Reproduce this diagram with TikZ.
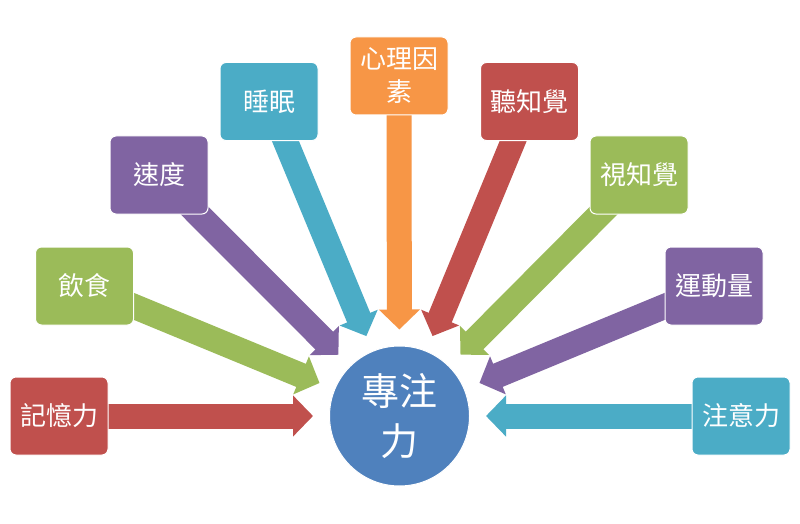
\documentclass[tikz,border=0pt]{standalone}
\usepackage{fontspec}
\newfontfamily\cjk{Noto Sans CJK TC}
\usetikzlibrary{arrows.meta,backgrounds}
\definecolor{cred}{HTML}{C0504D}
\definecolor{cgreen}{HTML}{9BBB59}
\definecolor{cpurple}{HTML}{8064A2}
\definecolor{caqua}{HTML}{4BACC6}
\definecolor{corange}{HTML}{F79646}
\definecolor{cblue}{HTML}{4F81BD}
\tikzset{
  box/.style={rounded corners=6pt, draw=white, line width=1pt, minimum width=98pt, minimum height=78pt,
    inner sep=0pt, align=center, text=white, font=\cjk\fontsize{26}{33}\selectfont},
  hub/.style={circle, draw=white, line width=1pt, fill=cblue, minimum size=140pt, inner sep=0pt,
    align=center, text=white, font=\cjk\fontsize{38}{50}\selectfont},
  blockarrow/.style={line width=25pt, line cap=butt, shorten >=16pt,
    -{Triangle[length=20pt,width=40pt]}}
}
\begin{document}
\begin{tikzpicture}[x=1pt,y=-1pt]
\useasboundingbox (0,0) rectangle (800,524);
\node[hub] (focus) at (399.5,416) {專注\\力};
\node[box, fill=cred]    (mem)   at (59,416)    {記憶力};
\node[box, fill=cgreen]  (diet)  at (84.5,286)  {飲食};
\node[box, fill=cpurple] (speed) at (159,175)   {速度};
\node[box, fill=caqua]   (sleep) at (269,101.5) {睡眠};
\node[box, fill=corange] (psych) at (399,76)    {心理因\\素};
\node[box, fill=cred]    (hear)  at (529.5,101.5) {聽知覺};
\node[box, fill=cgreen]  (vis)   at (639,175)   {視知覺};
\node[box, fill=cpurple] (move)  at (714,286)   {運動量};
\node[box, fill=caqua]   (attn)  at (741,416)   {注意力};
\begin{pgfonlayer}{background}
\fill[white] (0,0) rectangle (800,524);
\draw[blockarrow, cred]    (mem.center)   -- (focus);
\draw[blockarrow, cgreen]  (diet.center)  -- (focus);
\draw[blockarrow, cpurple] (speed.center) -- (focus);
\draw[blockarrow, caqua]   (sleep.center) -- (focus);
\draw[blockarrow, corange] (psych.center) -- (focus);
\draw[blockarrow, cred]    (hear.center)  -- (focus);
\draw[blockarrow, cgreen]  (vis.center)   -- (focus);
\draw[blockarrow, cpurple] (move.center)  -- (focus);
\draw[blockarrow, caqua]   (attn.center)  -- (focus);
\end{pgfonlayer}
\end{tikzpicture}
\end{document}
